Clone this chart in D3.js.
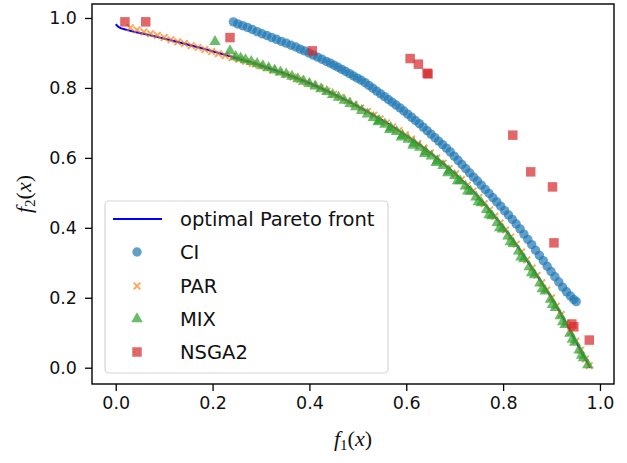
<!DOCTYPE html>
<html><head><meta charset="utf-8">
<script src="https://cdn.jsdelivr.net/npm/d3@7"></script>
<style>body{margin:0;background:#fff}svg{display:block}</style>
</head><body>
<svg id="c" width="627" height="463"></svg>
<script>
const frontX=[0.000,0.005,0.010,0.020,0.040,0.060,0.080,0.100,0.120,0.140,0.160,0.180,0.200,0.220,0.240,0.260,0.280,0.300,0.320,0.340,0.360,0.380,0.400,0.420,0.440,0.460,0.480,0.500,0.520,0.540,0.560,0.580,0.600,0.620,0.640,0.660,0.680,0.700,0.720,0.740,0.760,0.780,0.800,0.820,0.840,0.860,0.880,0.900,0.920,0.940,0.960,0.970,0.980];
const frontY=[0.982,0.975,0.971,0.967,0.960,0.954,0.948,0.941,0.934,0.927,0.920,0.913,0.905,0.897,0.889,0.881,0.873,0.864,0.855,0.846,0.836,0.825,0.814,0.802,0.789,0.776,0.762,0.747,0.732,0.716,0.700,0.682,0.664,0.645,0.625,0.603,0.580,0.556,0.530,0.502,0.471,0.438,0.403,0.366,0.326,0.284,0.243,0.200,0.152,0.102,0.050,0.024,0.000];

const ciX=[0.243,0.252,0.262,0.272,0.282,0.292,0.302,0.312,0.322,0.332,0.342,0.352,0.362,0.372,0.381,0.390,0.399,0.408,0.417,0.426,0.435,0.443,0.451,0.459,0.467,0.475,0.483,0.491,0.499,0.507,0.515,0.523,0.531,0.539,0.547,0.555,0.563,0.571,0.579,0.587,0.595,0.603,0.611,0.619,0.627,0.635,0.643,0.651,0.659,0.667,0.675,0.683,0.691,0.699,0.707,0.715,0.723,0.731,0.739,0.747,0.755,0.763,0.771,0.779,0.787,0.795,0.803,0.811,0.819,0.827,0.835,0.843,0.851,0.859,0.867,0.875,0.883,0.891,0.899,0.907,0.915,0.923,0.931,0.939,0.946,0.951];
const ciY=[0.989,0.983,0.978,0.973,0.967,0.961,0.955,0.950,0.944,0.939,0.933,0.928,0.922,0.917,0.911,0.906,0.900,0.894,0.888,0.882,0.876,0.871,0.865,0.859,0.853,0.847,0.841,0.834,0.828,0.822,0.815,0.807,0.799,0.791,0.783,0.775,0.767,0.759,0.751,0.743,0.734,0.725,0.716,0.707,0.698,0.688,0.678,0.668,0.658,0.648,0.638,0.628,0.617,0.605,0.593,0.581,0.569,0.557,0.545,0.534,0.522,0.510,0.498,0.486,0.474,0.462,0.449,0.437,0.424,0.411,0.397,0.382,0.367,0.352,0.336,0.321,0.306,0.290,0.275,0.260,0.245,0.230,0.217,0.205,0.195,0.189];

const parX=[0.030,0.044,0.058,0.072,0.086,0.100,0.114,0.128,0.142,0.156,0.170,0.184,0.198,0.212,0.226,0.240,0.254,0.268,0.282,0.296,0.310,0.324,0.338,0.352,0.366,0.380,0.394,0.408,0.422,0.436,0.450,0.464,0.478,0.492,0.506,0.520,0.533,0.546,0.559,0.572,0.585,0.598,0.611,0.624,0.637,0.650,0.663,0.676,0.689,0.702,0.714,0.726,0.738,0.750,0.761,0.772,0.783,0.794,0.805,0.816,0.827,0.838,0.849,0.860,0.870,0.880,0.890,0.900,0.910,0.920,0.930,0.940,0.950,0.960,0.970,0.978];
const parY=[0.972,0.966,0.960,0.955,0.950,0.944,0.938,0.932,0.927,0.921,0.916,0.910,0.904,0.898,0.893,0.887,0.882,0.876,0.870,0.864,0.858,0.852,0.845,0.838,0.831,0.824,0.816,0.808,0.800,0.791,0.782,0.773,0.763,0.753,0.743,0.733,0.722,0.711,0.700,0.689,0.678,0.666,0.654,0.641,0.628,0.614,0.600,0.585,0.570,0.554,0.538,0.521,0.505,0.487,0.469,0.451,0.433,0.414,0.394,0.374,0.353,0.331,0.308,0.285,0.264,0.243,0.222,0.200,0.176,0.152,0.127,0.102,0.076,0.050,0.025,0.006];

const mixX=[0.205,0.236,0.248,0.258,0.268,0.280,0.292,0.304,0.316,0.328,0.340,0.352,0.364,0.376,0.388,0.400,0.412,0.424,0.436,0.448,0.460,0.472,0.484,0.496,0.508,0.520,0.532,0.544,0.556,0.568,0.580,0.592,0.604,0.616,0.628,0.640,0.652,0.664,0.676,0.688,0.700,0.711,0.722,0.733,0.744,0.755,0.766,0.777,0.788,0.799,0.810,0.821,0.832,0.843,0.854,0.865,0.876,0.887,0.898,0.908,0.918,0.928,0.938,0.948,0.957,0.966,0.975,
  0.542,0.566,0.590,0.614,0.638,0.662,0.686,0.706,0.727,0.749,0.771,0.793,0.815,0.837,0.859,0.881,0.902,0.923,0.943,0.962];
const mixY=[0.932,0.906,0.889,0.885,0.880,0.875,0.869,0.863,0.857,0.851,0.845,0.839,0.833,0.826,0.819,0.812,0.805,0.797,0.789,0.781,0.773,0.764,0.755,0.746,0.735,0.725,0.715,0.706,0.696,0.686,0.675,0.664,0.653,0.642,0.630,0.618,0.605,0.591,0.578,0.563,0.549,0.534,0.519,0.504,0.488,0.471,0.452,0.434,0.415,0.396,0.376,0.355,0.333,0.311,0.288,0.265,0.242,0.219,0.195,0.172,0.148,0.123,0.098,0.072,0.050,0.028,0.008,
  0.703,0.681,0.659,0.636,0.612,0.586,0.557,0.534,0.505,0.474,0.437,0.400,0.360,0.316,0.271,0.225,0.180,0.131,0.081,0.035];

const nsgaX=[0.019,0.062,0.236,0.406,0.608,0.625,0.643,0.645,0.820,0.857,0.902,0.905,0.942,0.946,0.978];
const nsgaY=[0.989,0.989,0.944,0.906,0.884,0.868,0.842,0.840,0.665,0.560,0.517,0.357,0.125,0.117,0.079];

const xTicks=[0.0,0.2,0.4,0.6,0.8,1.0];
const yTicks=[0.0,0.2,0.4,0.6,0.8,1.0];
const legendLabels=["optimal Pareto front","CI","PAR","MIX","NSGA2"];

const svg=d3.select("#c");
const L=92,R=614,T=4,B=384;
const x=d3.scaleLinear().domain([-0.049,1.029]).range([L,R]);
const y=d3.scaleLinear().domain([-0.0466,1.040]).range([B,T]);
const FONT="'DejaVu Sans', sans-serif";
const colors={line:"#0000ff",ci:"#1f77b4",par:"#ff7f0e",mix:"#2ca02c",nsga:"#d62728"};
const A=0.7;

const plot=svg.append("g");
plot.append("path").datum(d3.zip(frontX,frontY))
  .attr("d",d3.line().x(d=>x(d[0])).y(d=>y(d[1])))
  .attr("fill","none").attr("stroke",colors.line).attr("stroke-width",2);

const circ=d3.symbol().type(d3.symbolCircle).size(Math.PI*4.7*4.7);
const tri=d3.symbol().type(d3.symbolTriangle).size(58);
const sq=d3.symbol().type(d3.symbolSquare).size(90);
function xpath(s){return `M${-s},${-s}L${s},${s}M${-s},${s}L${s},${-s}`;}

plot.append("g").selectAll("path").data(d3.zip(ciX,ciY)).join("path")
  .attr("d",circ).attr("transform",d=>`translate(${x(d[0])},${y(d[1])})`)
  .attr("fill",colors.ci).attr("fill-opacity",A);
plot.append("g").selectAll("path").data(d3.zip(parX,parY)).join("path")
  .attr("d",xpath(3.3)).attr("transform",d=>`translate(${x(d[0])},${y(d[1])})`)
  .attr("stroke",colors.par).attr("stroke-opacity",A).attr("stroke-width",1.9).attr("fill","none");
plot.append("g").selectAll("path").data(d3.zip(mixX,mixY)).join("path")
  .attr("d",tri).attr("transform",d=>`translate(${x(d[0])},${y(d[1])})`)
  .attr("fill",colors.mix).attr("fill-opacity",A);
plot.append("g").selectAll("path").data(d3.zip(nsgaX,nsgaY)).join("path")
  .attr("d",sq).attr("transform",d=>`translate(${x(d[0])},${y(d[1])})`)
  .attr("fill",colors.nsga).attr("fill-opacity",A);

const xa=svg.append("g").attr("transform",`translate(0,${B})`)
  .call(d3.axisBottom(x).tickValues(xTicks).tickFormat(d3.format(".1f")).tickSize(7).tickPadding(6));
const ya=svg.append("g").attr("transform",`translate(${L},0)`)
  .call(d3.axisLeft(y).tickValues(yTicks).tickFormat(d3.format(".1f")).tickSize(7).tickPadding(8));
[xa,ya].forEach(a=>{a.select(".domain").remove();a.selectAll("line").attr("stroke","#000").attr("stroke-width",1.3);
  a.selectAll("text").attr("font-family",FONT).attr("font-size",17.5).attr("fill","#111");});
svg.append("rect").attr("x",L).attr("y",T).attr("width",R-L).attr("height",B-T)
  .attr("fill","none").attr("stroke","#000").attr("stroke-width",1.4);

const lg=svg.append("g");
lg.append("rect").attr("x",105).attr("y",201).attr("width",283).attr("height",172).attr("rx",4)
  .attr("fill","#fff").attr("fill-opacity",0.8).attr("stroke","#d6d6d6").attr("stroke-width",1.2);
const rows=[219,252,286,319,352];
lg.append("line").attr("x1",113).attr("x2",162).attr("y1",rows[0]).attr("y2",rows[0]).attr("stroke",colors.line).attr("stroke-width",2);
lg.append("path").attr("d",circ).attr("transform",`translate(137,${rows[1]})`).attr("fill",colors.ci).attr("fill-opacity",A);
lg.append("path").attr("d",xpath(3.3)).attr("transform",`translate(137,${rows[2]})`).attr("stroke",colors.par).attr("stroke-opacity",A).attr("stroke-width",1.9);
lg.append("path").attr("d",tri).attr("transform",`translate(137,${rows[3]})`).attr("fill",colors.mix).attr("fill-opacity",A);
lg.append("path").attr("d",sq).attr("transform",`translate(137,${rows[4]})`).attr("fill",colors.nsga).attr("fill-opacity",A);
legendLabels.forEach((t,i)=>lg.append("text").attr("x",180).attr("y",rows[i]).attr("dy","0.36em")
  .attr("font-family",FONT).attr("font-size",19.5).attr("fill","#111").text(t));

const MF="'Liberation Serif', 'DejaVu Serif', serif";
function mathLabel(g,sub){
  const t=g.append("text").attr("font-family",MF).attr("font-size",22).attr("fill","#111").attr("text-anchor","middle");
  t.append("tspan").attr("font-style","italic").text("f");
  t.append("tspan").attr("font-size",15).attr("dy",4).text(sub);
  t.append("tspan").attr("dy",-4).text("(");
  t.append("tspan").attr("font-style","italic").text("x");
  t.append("tspan").text(")");
  return t;
}
mathLabel(svg.append("g").attr("transform",`translate(353,446)`),"1");
mathLabel(svg.append("g").attr("transform",`translate(31,194) rotate(-90)`),"2");
</script>
</body></html>
